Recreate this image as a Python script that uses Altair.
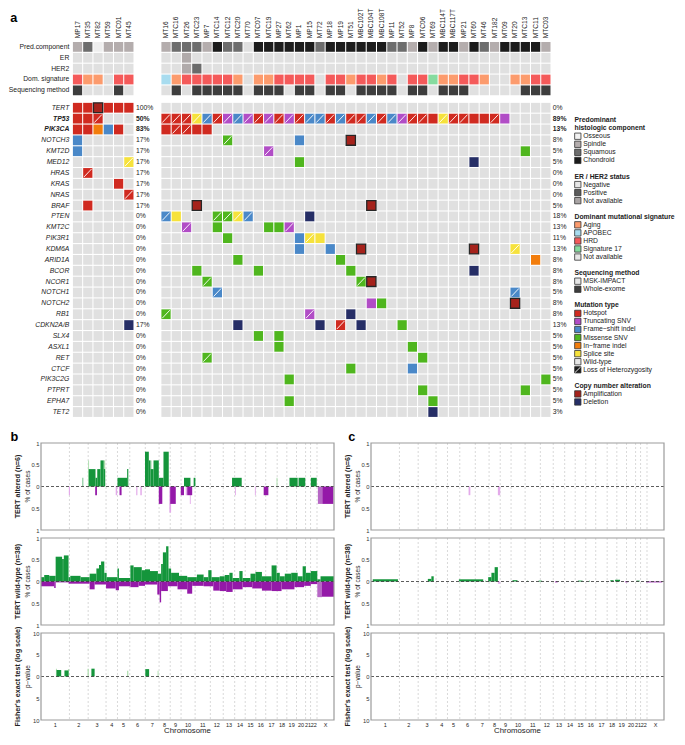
import altair as alt
import pandas as pd

FONT = "Liberation Sans"
INK = "#222222"

# ---------------------------------------------------------------- panel a data
LEFT = ["MP17", "MT35", "MT82", "MT59", "MTC01", "MT45"]
RIGHT = ["MT16", "MTC16", "MT26", "MTC23", "MP7", "MTC14", "MTC12", "MTC20", "MT70",
         "MTC07", "MTC19", "MP27", "MT62", "MP1", "MP15", "MT72", "MP18", "MP19", "MT51",
         "MBC102T", "MBC104T", "MBC108T", "MP11", "MT52", "MP8", "MTC06", "MT69",
         "MBC114T", "MBC117T", "MP21", "MT60", "MT46", "MT182", "MT09", "MT20", "MTC13",
         "MTC11", "MTC03"]
SAMPLES = LEFT + RIGHT

HEADER_ROWS = ["Pred.component", "ER", "HER2", "Dom. signature", "Sequencing method"]

PRED_LEFT = ["Sp", "Sq", "O", "Sp", "Sp", "Sp"]
PRED_RIGHT = ["Sp", "Sq", "Sq", "Sq", "Sp", "C", "Sq", "Sq", "NA", "C",
              "C", "C", "C", "C", "C", "Sq", "C", "C", "C", "C",
              "C", "C", "Sq", "Sq", "Sp", "C", "Sp", "C", "C", "Sp",
              "C", "Sq", "Sp", "C", "C", "C", "C", "Sp"]
ER_LEFT = ["Neg", "Neg", "Neg", "Neg", "Neg", "Neg"]
ER_RIGHT = ["Neg", "Neg", "NA", "Neg", "Neg", "Neg", "Neg", "Neg", "Neg", "Neg",
            "Neg", "Neg", "Neg", "Neg", "Neg", "Neg", "Neg", "Neg", "Neg", "Neg",
            "Neg", "Neg", "Neg", "Neg", "Neg", "Neg", "Neg", "Neg", "Neg", "Neg",
            "Neg", "Neg", "Neg", "Neg", "Neg", "Neg", "Neg", "Neg"]
HER2_LEFT = ["Neg", "Neg", "Neg", "Neg", "Neg", "Neg"]
HER2_RIGHT = ["Neg", "Neg", "NA", "Pos", "Neg", "Neg", "Neg", "Neg", "Neg", "Neg",
              "Neg", "Neg", "Neg", "Neg", "Neg", "Neg", "Neg", "Neg", "Neg", "Neg",
              "Neg", "Neg", "Neg", "Neg", "Neg", "Neg", "Neg", "Neg", "Neg", "Neg",
              "Neg", "Neg", "Neg", "Neg", "Neg", "Neg", "Neg", "Neg"]
SIG_LEFT = ["HRD", "Aging", "Aging", "NA", "HRD", "HRD"]
SIG_RIGHT = ["APOBEC", "Aging", "HRD", "HRD", "HRD", "HRD", "HRD", "Aging", "NA", "Aging",
             "Aging", "HRD", "HRD", "HRD", "HRD", "NA", "HRD", "HRD", "Aging", "HRD",
             "HRD", "Aging", "HRD", "NA", "HRD", "HRD", "Sig17", "Aging", "Aging", "HRD",
             "HRD", "Aging", "NA", "NA", "Aging", "Aging", "HRD", "HRD"]
SEQ_LEFT = ["WES", "MSK", "MSK", "MSK", "WES", "MSK"]
SEQ_RIGHT = ["MSK", "WES", "MSK", "WES", "WES", "WES", "WES", "WES", "MSK", "WES",
             "WES", "WES", "MSK", "WES", "WES", "MSK", "WES", "WES", "MSK", "WES",
             "WES", "WES", "WES", "MSK", "WES", "WES", "MSK", "WES", "WES", "WES",
             "MSK", "MSK", "MSK", "MSK", "MSK", "WES", "WES", "WES"]

GENES = ["TERT", "TP53", "PIK3CA", "NOTCH3", "KMT2D", "MED12", "HRAS", "KRAS", "NRAS",
         "BRAF", "PTEN", "KMT2C", "PIK3R1", "KDM6A", "ARID1A", "BCOR", "NCOR1", "NOTCH1",
         "NOTCH2", "RB1", "CDKN2A/B", "SLX4", "ASXL1", "RET", "CTCF", "PIK3C2G", "PTPRT",
         "EPHA7", "TET2"]
BOLD_GENES = ["TP53", "PIK3CA"]
LEFT_PCT = ["100%", "50%", "83%", "17%", "17%", "17%", "17%", "17%", "17%", "17%",
            "0%", "0%", "0%", "0%", "0%", "0%", "0%", "0%", "0%", "0%",
            "17%", "0%", "0%", "0%", "0%", "0%", "0%", "0%", "0%"]
RIGHT_PCT = ["0%", "89%", "13%", "8%", "5%", "5%", "0%", "0%", "0%", "5%",
             "18%", "13%", "11%", "13%", "8%", "8%", "8%", "5%", "8%", "8%",
             "13%", "5%", "5%", "5%", "5%", "5%", "5%", "5%", "3%"]

# codes: h hotspot, t truncating, f frame-shift, m missense, i in-frame, s splice,
# a amplification, d deletion; upper case = with loss of heterozygosity
TP53_RIGHT = "HHHSFHTFTH" "THTHFFHFHH" "FHFTHHhSHH" "hhHt...."
CALLS = {
    "TERT": {"MP17": "h", "MT35": "h", "MT82": "a", "MT59": "h", "MTC01": "h", "MT45": "h"},
    "TP53": {"MP17": "h", "MT35": "h", "MT82": "H"},
    "PIK3CA": {"MP17": "h", "MT35": "h", "MT82": "i", "MT59": "f", "MTC01": "h",
               "MT16": "h", "MTC16": "H", "MT26": "H", "MTC23": "h", "MP7": "h"},
    "NOTCH3": {"MP17": "f", "MTC12": "M", "MP1": "f", "MT51": "a"},
    "KMT2D": {"MP17": "f", "MTC19": "T", "MTC13": "m"},
    "MED12": {"MT45": "S", "MP1": "m", "MT60": "d"},
    "HRAS": {"MT35": "H"},
    "KRAS": {"MTC01": "h"},
    "NRAS": {"MT45": "H"},
    "BRAF": {"MT35": "h", "MTC23": "a", "MBC104T": "a"},
    "PTEN": {"MT16": "F", "MTC16": "s", "MTC14": "M", "MTC12": "M", "MTC20": "S",
             "MT70": "F", "MP15": "d"},
    "KMT2C": {"MT26": "T", "MTC14": "m", "MTC19": "m", "MP27": "m", "MT62": "T"},
    "PIK3R1": {"MTC12": "m", "MP1": "f", "MP15": "S", "MT72": "s"},
    "KDM6A": {"MP1": "f", "MP18": "f", "MBC102T": "a", "MT60": "a", "MT20": "S"},
    "ARID1A": {"MTC20": "m", "MP19": "m", "MTC11": "i"},
    "BCOR": {"MTC23": "m", "MTC07": "m", "MT51": "m", "MT60": "d"},
    "NCOR1": {"MP7": "M", "MBC102T": "M", "MBC104T": "a"},
    "NOTCH1": {"MTC14": "F", "MT20": "F"},
    "NOTCH2": {"MBC104T": "t", "MBC108T": "m", "MT20": "a"},
    "RB1": {"MT16": "M", "MP15": "T", "MT51": "d"},
    "CDKN2A/B": {"MT45": "d", "MTC20": "d", "MT72": "d", "MP19": "H", "MBC102T": "d",
                 "MT52": "m"},
    "SLX4": {"MTC07": "m", "MP27": "m"},
    "ASXL1": {"MP27": "m", "MP8": "m"},
    "RET": {"MP7": "M", "MTC06": "m"},
    "CTCF": {"MT51": "m", "MP8": "f"},
    "PIK3C2G": {"MT62": "m", "MTC03": "m"},
    "PTPRT": {"MTC06": "m", "MTC13": "m"},
    "EPHA7": {"MT62": "m", "MT69": "m"},
    "TET2": {"MT69": "d"},
}
CALLS["TP53"].update({s: c for s, c in zip(RIGHT, TP53_RIGHT) if c != "."})

PRED_COL = {"O": "#efefef", "Sp": "#b4adad", "Sq": "#6d6d6d", "C": "#1b1b1b", "NA": "#e0e0e0"}
ERH_COL = {"Neg": "#e0e0e0", "Pos": "#6b6b6b", "NA": "#b1abab"}
SIG_COL = {"Aging": "#fc9b6d", "APOBEC": "#a8dcef", "HRD": "#f45a5a", "Sig17": "#86db9f",
           "NA": "#e0e0e0"}
SEQ_COL = {"MSK": "#e0e0e0", "WES": "#3d3d3d"}
MUT_COL = {".": "#e0e0e0", "h": "#d02a20", "t": "#b14dc6", "f": "#4a88c8", "m": "#4fb61e",
           "i": "#f27d0c", "s": "#f6e23c", "a": "#a5221b", "d": "#262e66"}

LEGEND = [
    (["Predominant", "histologic component"],
     [("Osseous", "#f2f2f2"), ("Spindle", "#b4adad"), ("Squamous", "#6d6d6d"), ("Chondroid", "#1b1b1b")]),
    (["ER / HER2 status"],
     [("Negative", "#e6e6e6"), ("Positive", "#5b5b5b"), ("Not available", "#a9a4a4")]),
    (["Dominant mutational signature"],
     [("Aging", "#fc9b6d"), ("APOBEC", "#a8dcef"), ("HRD", "#f45a5a"), ("Signature 17", "#86db9f"),
      ("Not available", "#e6e6e6")]),
    (["Sequencing method"], [("MSK-IMPACT", "#e6e6e6"), ("Whole-exome", "#3d3d3d")]),
    (["Mutation type"],
     [("Hotspot", "#d02a20"), ("Truncating SNV", "#b14dc6"), ("Frame\u2212shift indel", "#4a88c8"),
      ("Missense SNV", "#4fb61e"), ("In\u2212frame indel", "#f27d0c"), ("Splice site", "#f6e23c"),
      ("Wild-type", "#e6e6e6"), ("Loss of Heterozygosity", "LOH")]),
    (["Copy number alteration"], [("Amplification", "#a5221b"), ("Deletion", "#262e66")]),
]

# ---------------------------------------------------------------- panel b / c data
CHROMS = ["1", "2", "3", "4", "5", "6", "7", "8", "9", "10", "11", "12", "13", "14", "15",
          "16", "17", "18", "19", "20", "21", "22", "X"]
CHROM_WIDTH = [9.7, 6.4, 6.1, 3.9, 4.2, 5.3, 4.7, 3.8, 3.7, 4.8, 5.2, 4.4, 3.9, 3.6, 3.6,
               3.4, 3.9, 3.3, 3.3, 3.1, 1.7, 2.2, 5.8]

# (start, end, fraction, shade)  shade: d = dark, m = medium, l = light
B_ALT_GAIN = [(14.2, 14.4, 0.2, "d"), (16.1, 16.4, 0.6, "l"), (16.3, 18.6, 0.4, "d"),
              (18.6, 19.2, 0.2, "d"), (19.2, 20.3, 0.4, "d"), (20.3, 21.4, 0.6, "d"),
              (21.4, 21.9, 0.6, "l"), (21.4, 21.9, 0.4, "d"), (26.1, 29.4, 0.2, "d"),
              (29.4, 29.8, 0.4, "d"), (35.5, 36.8, 0.8, "d"), (36.8, 37.4, 0.6, "d"),
              (37.4, 38.4, 0.4, "d"), (37.6, 37.8, 0.6, "l"), (38.4, 40.2, 0.6, "d"),
              (40.2, 41.8, 0.2, "d"), (41.8, 43.6, 0.8, "d"), (48.8, 51.0, 0.2, "d"),
              (52.1, 52.7, 0.2, "d"), (65.2, 68.5, 0.2, "d"), (80.4, 80.7, 0.2, "l"),
              (84.8, 87.6, 0.2, "d"), (87.9, 90.2, 0.2, "d"), (92.1, 94.1, 0.2, "d")]
B_ALT_LOSS = [(9.5, 9.9, 0.2, "l"), (18.5, 19.1, 0.2, "d"), (25.5, 26.0, 0.2, "l"),
              (26.8, 27.5, 0.2, "d"), (32.5, 32.9, 0.2, "l"), (33.9, 34.4, 0.2, "l"),
              (40.2, 41.4, 0.4, "d"), (43.8, 44.4, 0.6, "l"), (44.1, 46.0, 0.4, "d"),
              (47.7, 48.8, 0.2, "d"), (49.4, 49.9, 0.2, "l"), (50.8, 51.1, 0.4, "l"),
              (49.9, 51.6, 0.2, "d"), (66.2, 66.5, 0.2, "l"), (73.0, 73.3, 0.2, "l"),
              (76.0, 77.6, 0.2, "d"), (94.5, 96.0, 0.4, "m"), (96.0, 99.8, 0.4, "d")]
B_WT_GAIN = [(0.0, 1.1, 0.1, "d"), (1.1, 2.8, 0.15, "d"), (2.8, 5.0, 0.13, "d"),
             (5.0, 7.2, 0.57, "d"), (7.2, 7.8, 0.52, "d"), (7.8, 9.4, 0.6, "d"),
             (9.4, 10.0, 0.1, "d"), (10.0, 13.5, 0.13, "d"), (13.5, 16.6, 0.1, "d"),
             (16.6, 18.9, 0.18, "d"), (18.9, 19.8, 0.3, "d"), (19.8, 20.5, 0.38, "d"),
             (20.5, 21.6, 0.46, "d"), (21.6, 22.4, 0.2, "d"), (22.4, 26.1, 0.1, "d"),
             (26.1, 26.6, 0.3, "d"), (26.6, 30.5, 0.08, "d"), (30.5, 31.6, 0.37, "d"),
             (31.6, 34.4, 0.33, "d"), (34.4, 35.5, 0.26, "d"), (35.5, 37.2, 0.28, "d"),
             (37.2, 39.9, 0.24, "d"), (39.9, 41.0, 0.18, "d"), (41.0, 41.6, 0.4, "d"),
             (41.6, 42.7, 0.67, "d"), (42.7, 43.5, 0.81, "d"), (43.5, 44.4, 0.3, "d"),
             (44.4, 47.1, 0.2, "d"), (47.1, 49.9, 0.13, "d"), (49.9, 53.2, 0.1, "d"),
             (53.2, 55.5, 0.16, "d"), (55.5, 57.1, 0.1, "d"), (57.1, 58.2, 0.26, "d"),
             (58.2, 61.0, 0.1, "d"), (61.0, 62.7, 0.12, "d"), (62.7, 64.3, 0.15, "d"),
             (64.3, 65.4, 0.2, "d"), (65.4, 67.7, 0.08, "d"), (67.7, 68.8, 0.24, "d"),
             (68.8, 71.5, 0.08, "d"), (71.5, 73.2, 0.18, "d"), (73.2, 75.4, 0.22, "d"),
             (75.4, 78.7, 0.12, "d"), (78.7, 80.4, 0.37, "d"), (80.4, 81.5, 0.2, "d"),
             (81.5, 83.2, 0.12, "d"), (83.2, 85.4, 0.18, "d"), (85.4, 87.6, 0.2, "d"),
             (87.6, 89.3, 0.12, "d"), (89.3, 90.4, 0.35, "d"), (90.4, 92.1, 0.2, "d"),
             (92.1, 94.3, 0.24, "d"), (94.3, 95.4, 0.05, "d"), (95.4, 100.0, 0.12, "d")]
B_WT_LOSS = [(0.0, 4.5, 0.11, "d"), (4.5, 5.0, 0.15, "d"), (5.0, 9.4, 0.02, "d"),
             (9.4, 16.6, 0.05, "d"), (16.6, 18.3, 0.18, "d"), (18.3, 22.2, 0.07, "d"),
             (22.2, 25.5, 0.16, "d"), (25.5, 26.6, 0.2, "d"), (26.6, 30.5, 0.11, "d"),
             (30.5, 33.3, 0.13, "d"), (33.3, 35.5, 0.1, "d"), (35.5, 39.7, 0.07, "d"),
             (39.7, 40.5, 0.3, "d"), (40.5, 41.0, 0.48, "d"), (41.0, 43.3, 0.22, "d"),
             (43.3, 46.6, 0.11, "d"), (46.6, 49.9, 0.18, "d"), (49.9, 51.6, 0.28, "d"),
             (51.6, 55.5, 0.1, "d"), (55.5, 58.8, 0.11, "d"), (58.8, 61.0, 0.21, "d"),
             (61.0, 63.2, 0.22, "d"), (63.2, 65.4, 0.24, "d"), (65.4, 68.8, 0.18, "d"),
             (68.8, 72.1, 0.13, "d"), (72.1, 75.4, 0.16, "d"), (75.4, 78.7, 0.21, "d"),
             (78.7, 82.1, 0.22, "d"), (82.1, 86.5, 0.18, "d"), (86.5, 89.8, 0.13, "d"),
             (89.8, 92.1, 0.1, "d"), (92.1, 94.3, 0.06, "d"), (94.3, 95.9, 0.36, "m"),
             (95.9, 100.0, 0.35, "d")]
B_FISHER = [(5.1, 5.4, 1.8, "l"), (5.3, 6.9, 1.5, "d"), (9.2, 9.5, 1.7, "l"),
            (8.0, 9.4, 1.4, "d"), (15.9, 16.3, 1.8, "l"), (17.2, 18.3, 1.8, "d"),
            (29.4, 29.8, 1.3, "l"), (35.6, 36.9, 1.7, "d"), (39.8, 40.1, 1.3, "l")]

C_ALT_GAIN = []
C_ALT_LOSS = [(33.3, 33.9, 0.2, "l"), (43.3, 44.1, 0.2, "l")]
C_WT_GAIN = [(0.6, 9.2, 0.05, "d"), (19.4, 20.6, 0.06, "d"), (20.6, 21.4, 0.12, "d"),
             (30.0, 38.3, 0.05, "d"), (38.9, 39.2, 0.02, "d"), (40.0, 41.1, 0.1, "d"),
             (41.1, 42.2, 0.2, "d"), (42.2, 43.3, 0.33, "d"), (48.3, 50.0, 0.03, "d"),
             (53.3, 53.6, 0.02, "d"), (57.2, 58.3, 0.02, "d"), (70.6, 72.2, 0.02, "d"),
             (74.4, 74.7, 0.02, "d"), (81.7, 82.8, 0.03, "d"), (83.3, 85.0, 0.04, "d"),
             (90.6, 91.7, 0.02, "d")]
C_WT_LOSS = [(43.3, 44.1, 0.05, "l"), (62.8, 63.7, 0.02, "d"), (86.7, 87.8, 0.02, "d"),
             (93.9, 99.4, 0.02, "d")]
C_FISHER = []

GAIN_COL = {"d": "#14953b", "m": "#5cb86f", "l": "#a9dcaa"}
LOSS_COL = {"d": "#9419a8", "m": "#b767c6", "l": "#e3aaea"}

# ---------------------------------------------------------------- layout constants
CELL = 0.9
GAP_COLS = 2.62
HEAD_GAP = 0.6
A_W, A_H = 623, 376
P_W, P_H = 293, 87

XS_A = alt.Scale(domain=[-3.108, 57.576], nice=False, zero=False)
YS_A = alt.Scale(domain=[0, 34.6], nice=False, zero=False, reverse=True)


def ax(f):
    return alt.X(f, type="quantitative", scale=XS_A, axis=None)


def ay(f):
    return alt.Y(f, type="quantitative", scale=YS_A, axis=None)


xpos = {s: i for i, s in enumerate(LEFT)}
xpos.update({s: len(LEFT) + GAP_COLS + j for j, s in enumerate(RIGHT)})
ypos = {r: i for i, r in enumerate(HEADER_ROWS)}
ypos.update({g: len(HEADER_ROWS) + HEAD_GAP + k for k, g in enumerate(GENES)})

cells = []
for r, vals, pal in [("Pred.component", PRED_LEFT + PRED_RIGHT, PRED_COL),
                     ("ER", ER_LEFT + ER_RIGHT, ERH_COL),
                     ("HER2", HER2_LEFT + HER2_RIGHT, ERH_COL),
                     ("Dom. signature", SIG_LEFT + SIG_RIGHT, SIG_COL),
                     ("Sequencing method", SEQ_LEFT + SEQ_RIGHT, SEQ_COL)]:
    for s, v in zip(SAMPLES, vals):
        cells.append(dict(x=xpos[s], x2=xpos[s] + CELL, y=ypos[r], y2=ypos[r] + CELL, fill=pal[v]))

amps, lohs = [], []
for g in GENES:
    calls = CALLS.get(g, {})
    for s in SAMPLES:
        code = calls.get(s, ".")
        rec = dict(x=xpos[s], x2=xpos[s] + CELL, y=ypos[g], y2=ypos[g] + CELL,
                   fill=MUT_COL[code.lower()])
        if code == "a":
            amps.append(rec)
        else:
            cells.append(rec)
        if code != "." and code.isupper():
            lohs.append(dict(lx1=xpos[s] + 0.08, lx2=xpos[s] + CELL - 0.08,
                             ly1=ypos[g] + CELL - 0.08, ly2=ypos[g] + 0.08))

cells_df = pd.DataFrame(cells)
amps_df = pd.DataFrame(amps)
loh_df = pd.DataFrame(lohs)

rect_layer = alt.Chart(cells_df).mark_rect().encode(
    x=ax("x"), x2="x2", y=ay("y"), y2="y2", color=alt.Color("fill:N", scale=None))
amp_layer = alt.Chart(amps_df).mark_rect(stroke="#262626", strokeWidth=1.3).encode(
    x=ax("x"), x2="x2", y=ay("y"), y2="y2", color=alt.Color("fill:N", scale=None))
loh_layer = alt.Chart(loh_df).mark_rule(color="white", strokeWidth=0.9).encode(
    x=ax("lx1"), x2="lx2", y=ay("ly1"), y2="ly2")

# row labels
head_lab = pd.DataFrame({"t": HEADER_ROWS, "x": [0] * len(HEADER_ROWS),
                         "y": [ypos[r] + CELL / 2 for r in HEADER_ROWS]})
plain_genes = [g for g in GENES if g not in BOLD_GENES]
gene_lab = pd.DataFrame({"t": plain_genes, "x": [0] * len(plain_genes),
                         "y": [ypos[g] + CELL / 2 for g in plain_genes]})
bold_lab = pd.DataFrame({"t": BOLD_GENES, "x": [0] * len(BOLD_GENES),
                         "y": [ypos[g] + CELL / 2 for g in BOLD_GENES]})


def txt(df, **kw):
    base = dict(font=FONT, fontSize=6.8, color=INK, baseline="middle")
    base.update(kw)
    return alt.Chart(df).mark_text(**base).encode(x=ax("x"), y=ay("y"), text="t:N")


lab_layers = [
    txt(head_lab, align="right", dx=-3.6),
    txt(gene_lab, align="right", dx=-3.6, fontStyle="italic"),
    txt(bold_lab, align="right", dx=-3.6, fontStyle="italic", fontWeight="bold"),
]

pct_rows = []
for g, lp, rp in zip(GENES, LEFT_PCT, RIGHT_PCT):
    b = g in BOLD_GENES
    pct_rows.append(dict(t=lp, x=len(LEFT), y=ypos[g] + CELL / 2, side="L", bold=b))
    pct_rows.append(dict(t=rp, x=len(LEFT) + GAP_COLS + len(RIGHT), y=ypos[g] + CELL / 2,
                         side="R", bold=b))
pct_df = pd.DataFrame(pct_rows)
for side, dx in [("L", 1.5), ("R", 1.3)]:
    for b in [False, True]:
        sub = pct_df[(pct_df.side == side) & (pct_df.bold == b)]
        lab_layers.append(txt(sub, align="left", dx=dx, fontWeight="bold" if b else "normal"))

samp_df = pd.DataFrame({"t": SAMPLES, "x": [xpos[s] + CELL / 2 for s in SAMPLES],
                        "y": [-0.35] * len(SAMPLES)})
lab_layers.append(txt(samp_df, align="left", angle=270, fontSize=6.6))

# legend
LEG_SQ_X, LEG_TX_X, LEG_Y0, LEG_STEP = 49.18, 49.71, 7.19, 0.741
line = 0
leg_titles, leg_items = [], []
for tlines, entries in LEGEND:
    for t in tlines:
        leg_titles.append(dict(t=t, x=LEG_SQ_X - 0.32, y=LEG_Y0 + line * LEG_STEP))
        line += 1
    for name, col in entries:
        leg_items.append(dict(t=name, x=LEG_TX_X, sx=LEG_SQ_X, y=LEG_Y0 + line * LEG_STEP,
                              fill="#1b1b1b" if col == "LOH" else col, loh=col == "LOH"))
        line += 1
    line += 1
lt_df = pd.DataFrame(leg_titles)
li_df = pd.DataFrame(leg_items)
li_df["lx1"] = li_df.sx - 0.27
li_df["lx2"] = li_df.sx + 0.27
li_df["ly1"] = li_df.y + 0.25
li_df["ly2"] = li_df.y - 0.25

leg_layers = [
    alt.Chart(li_df).mark_square(size=40, stroke="#333333", strokeWidth=0.8, opacity=1).encode(
        x=ax("sx"), y=ay("y"), color=alt.Color("fill:N", scale=None)),
    alt.Chart(li_df[li_df.loh]).mark_rule(color="white", strokeWidth=0.9).encode(
        x=ax("lx1"), x2="lx2", y=ay("ly1"), y2="ly2"),
    txt(li_df, align="left"),
    txt(lt_df, align="left", fontWeight="bold"),
]

letter_a = alt.Chart(pd.DataFrame({"t": ["a"]})).mark_text(
    font=FONT, fontSize=12.7, fontWeight="bold", color="black", align="center",
    baseline="middle").encode(x=alt.value(-27.1), y=alt.value(-23.7), text="t:N")

panel_a = alt.layer(rect_layer, amp_layer, loh_layer, *lab_layers, *leg_layers,
                    letter_a).properties(width=A_W, height=A_H)

# ---------------------------------------------------------------- panels b / c
XS_P = alt.Scale(domain=[0, 100], nice=False, zero=False)
bounds, centers, acc = [], [], 0.0
for w in CHROM_WIDTH:
    centers.append(acc + w / 2)
    acc += w
    bounds.append(acc)
bounds = bounds[:-1]


def panel(gain, loss, lim, ticks, bold, norm, letter=None, letter_x=0, bottom=False):
    ys = alt.Scale(domain=[-lim, lim], nice=False, zero=False)
    yaxis = alt.Axis(values=ticks, labelExpr="'' + abs(datum.value)", grid=False,
                     domain=False, ticks=False, labelFontSize=5.8, labelColor="#333333",
                     labelPadding=2, labelFont=FONT, title=None)

    def py(f):
        return alt.Y(f, type="quantitative", scale=ys, axis=yaxis)

    def px(f):
        return alt.X(f, type="quantitative", scale=XS_P, axis=None)

    segs = []
    for shade in ["l", "m", "d"]:
        for s, e, v, sh in gain:
            if sh == shade:
                segs.append(dict(x=s, x2=e, y=0, y2=v, fill=GAIN_COL[sh]))
        for s, e, v, sh in loss:
            if sh == shade:
                segs.append(dict(x=s, x2=e, y=-v, y2=0, fill=LOSS_COL[sh]))
    one = pd.DataFrame({"z": [0]})
    layers = [
        alt.Chart(pd.DataFrame({"b": bounds})).mark_rule(
            strokeDash=[2, 2], color="#c8c8c8", strokeWidth=0.7).encode(x=px("b")),
    ]
    if segs:
        layers.append(alt.Chart(pd.DataFrame(segs)).mark_rect().encode(
            x=px("x"), x2="x2", y=py("y"), y2="y2", color=alt.Color("fill:N", scale=None)))
    layers.append(alt.Chart(one).mark_rule(strokeDash=[3, 2], color="#333333",
                                           strokeWidth=0.8).encode(y=py("z")))
    layers.append(alt.Chart(one).mark_rect(filled=False, stroke="#9c9c9c", strokeWidth=1.2).encode(
        x=alt.value(0), x2=alt.value(P_W), y=alt.value(0), y2=alt.value(P_H)))
    layers.append(alt.Chart(pd.DataFrame({"t": [bold]})).mark_text(
        font=FONT, fontSize=7.2, fontWeight="bold", angle=270, color=INK,
        align="center", baseline="middle").encode(
        x=alt.value(-23), y=alt.value(P_H / 2), text="t:N"))
    layers.append(alt.Chart(pd.DataFrame({"t": [norm]})).mark_text(
        font=FONT, fontSize=6.5, angle=270, color=INK,
        align="center", baseline="middle").encode(
        x=alt.value(-13.5), y=alt.value(P_H / 2), text="t:N"))
    if letter:
        layers.append(alt.Chart(pd.DataFrame({"t": [letter]})).mark_text(
            font=FONT, fontSize=12.7, fontWeight="bold", color="black",
            align="center", baseline="middle").encode(
            x=alt.value(letter_x), y=alt.value(-5.7), text="t:N"))
    if bottom:
        layers.append(alt.Chart(pd.DataFrame({"t": CHROMS, "c": centers})).mark_text(
            font=FONT, fontSize=5.5, color=INK, baseline="middle").encode(
            x=px("c"), y=alt.value(P_H + 4.6), text="t:N"))
        layers.append(alt.Chart(pd.DataFrame({"t": ["Chromosome"]})).mark_text(
            font=FONT, fontSize=7.8, color=INK, baseline="middle").encode(
            x=alt.value(P_W / 2), y=alt.value(P_H + 11.4), text="t:N"))
    return alt.layer(*layers).properties(width=P_W, height=P_H)


FRAC_TICKS = [-1, -0.5, 0, 0.5, 1]
P_TICKS = [-10, -5, 0, 5, 10]

grid = alt.concat(
    panel(B_ALT_GAIN, B_ALT_LOSS, 1, FRAC_TICKS, "TERT altered (n=6)", "% of cases", "b", -26.6),
    panel(C_ALT_GAIN, C_ALT_LOSS, 1, FRAC_TICKS, "TERT altered (n=6)", "% of cases", "c", -19.2),
    panel(B_WT_GAIN, B_WT_LOSS, 1, FRAC_TICKS, "TERT wild-type (n=38)", "% of cases"),
    panel(C_WT_GAIN, C_WT_LOSS, 1, FRAC_TICKS, "TERT wild-type (n=38)", "% of cases"),
    panel(B_FISHER, [], 10, P_TICKS, "Fisher's exact test (log scale)", "p\u2212value", bottom=True),
    panel(C_FISHER, [], 10, P_TICKS, "Fisher's exact test (log scale)", "p\u2212value", bottom=True),
    columns=2, spacing={"row": 8, "column": 37}, bounds="flush")

chart = alt.vconcat(panel_a, grid, spacing=25, bounds="flush").properties(
    padding=0
).configure(font=FONT).configure_view(stroke="transparent")

chart.save("out.html", embed_options={"renderer": "svg", "actions": False})
